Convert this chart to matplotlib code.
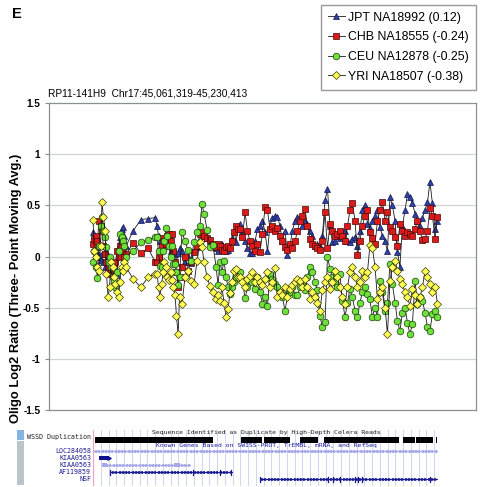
import numpy as np
import matplotlib
matplotlib.use("Agg")
import matplotlib.pyplot as plt
from matplotlib.patches import Rectangle

plt.rcParams['font.family'] = ['Liberation Sans', 'DejaVu Sans']

# ---------------- data ----------------
# probe positions, kb from Chr17:45,061,319
positions_kb = [
    0.0, 0.7, 1.5, 2.2, 2.9, 3.7, 4.4, 5.1, 5.9, 6.6, 7.4, 8.1, 8.8, 9.6, 10.3, 11.0, 11.8, 12.5, 13.2, 14.0, 14.7, 15.4, 16.2,
    19.6, 23.5, 27.0, 30.4,
    31.4, 32.1, 32.8, 33.6, 34.3, 35.0, 35.8, 36.5, 37.2, 38.0, 38.7, 39.4, 40.2, 40.9, 41.7, 42.4,
    43.6, 45.1, 46.6, 48.0, 49.5, 51.0, 52.4, 53.4, 54.4,
    55.9, 57.3, 58.8, 60.3, 61.3, 62.2, 63.2, 64.2, 65.2, 66.2, 67.1, 68.1, 69.1, 70.1, 71.1,
    72.0, 73.2, 74.5, 75.7, 76.9, 78.1, 79.4, 80.6, 81.8, 83.0, 84.3, 85.5, 86.7, 87.9, 89.2, 90.4,
    91.6, 92.8, 94.1, 95.3, 96.5, 97.7, 99.0, 100.2, 101.4, 102.6, 103.9, 105.1, 106.3, 107.5, 108.8, 110.0,
    111.2, 112.4, 113.7, 114.9, 116.1, 117.3, 118.6, 119.8, 121.0, 122.2, 123.5, 124.7, 125.9, 127.1, 128.4, 129.6,
    130.8, 132.0, 133.3, 134.5, 135.7, 136.9, 138.2, 139.4, 140.6, 141.8, 143.1, 144.3, 145.5, 146.7, 148.0, 149.2,
    150.4, 151.6, 152.9, 154.1, 155.3, 156.5, 157.8, 159.0, 160.2, 161.4, 162.7, 163.9, 165.1, 166.3, 167.6, 168.8,
]

jpt = [
    0.24, 0.20, 0.09, 0.05, 0.00, -0.03, 0.02, -0.05, -0.10, 0.05, 0.00, -0.08, -0.05, -0.12, -0.17, -0.10, -0.18, 0.10, 0.19, 0.27, 0.29, 0.20, 0.10,
    0.25, 0.36, 0.37, 0.38,
    0.30, 0.20, 0.15, 0.10, 0.12, 0.17, 0.20, 0.15, 0.10, 0.05, 0.13, 0.08, 0.02, -0.05, 0.03, 0.08,
    0.05, -0.05, 0.00, -0.06, 0.05, 0.09, 0.15, 0.20, 0.22,
    0.18, 0.15, 0.10, 0.08, 0.05, 0.10, 0.12, 0.08, 0.05, 0.06, 0.10, 0.18, 0.25, 0.14, 0.28,
    0.32, 0.25, 0.15, 0.08, 0.03, 0.03, 0.15, 0.27, 0.30, 0.35,
    0.24, 0.05, 0.30, 0.38, 0.40, 0.39, 0.30, 0.15, 0.25, 0.01,
    0.10, 0.25, 0.35, 0.39, 0.38, 0.30, 0.35, 0.32, 0.25, 0.20,
    0.10, 0.12, 0.10, 0.20, 0.55, 0.66, 0.30, 0.14, 0.15, 0.20,
    0.18, 0.25, 0.25, 0.15, 0.14, 0.17, 0.19, 0.10, 0.25, 0.45,
    0.50, 0.32, 0.28, 0.35, 0.40, 0.45, 0.29, 0.20, 0.15, 0.05,
    0.58, 0.50, 0.35, 0.04, -0.10, 0.30, 0.45, 0.61, 0.58, 0.52,
    0.42, 0.35, 0.30, 0.38, 0.45, 0.53, 0.73, 0.52, 0.27, 0.35,
]

chb = [
    0.12, 0.17, 0.20, 0.15, 0.35, 0.30, 0.25, 0.10, 0.02, -0.05, -0.10, -0.17, -0.12, -0.07, -0.15, -0.05, 0.05, 0.00, 0.10, 0.15, 0.05, 0.00, 0.02,
    0.13, 0.03, 0.08, -0.05,
    -0.05, 0.00, 0.05, 0.10, 0.18, 0.15, 0.12, 0.20, 0.22, 0.15, 0.22, 0.05, -0.05, -0.15, -0.30, -0.20,
    -0.10, 0.00, -0.14, -0.05, 0.04, 0.10, 0.22, 0.24, 0.20,
    0.18, 0.16, 0.12, 0.09, 0.12, 0.10, 0.06, 0.05, 0.09, 0.10, 0.08, 0.15, 0.24, 0.30, 0.27,
    0.27, 0.19, 0.43, 0.25, 0.15, 0.10, 0.05, 0.12, 0.04, 0.22,
    0.48, 0.45, 0.27, 0.30, 0.25, 0.28, 0.20, 0.15, 0.09, 0.06,
    0.12, 0.08, 0.15, 0.25, 0.35, 0.40, 0.46, 0.30, 0.17, 0.12,
    0.10, 0.08, 0.06, 0.15, 0.43, 0.08, 0.32, 0.25, 0.20, 0.22,
    0.25, 0.20, 0.15, 0.30, 0.45, 0.52, 0.35, 0.01, 0.15, 0.30,
    0.40, 0.45, 0.24, 0.18, 0.12, 0.35, 0.45, 0.53, 0.35, 0.43,
    0.29, 0.25, 0.19, 0.10, 0.32, 0.25, 0.20, 0.24, 0.22, 0.20,
    0.27, 0.35, 0.25, 0.16, 0.17, 0.25, 0.47, 0.40, 0.17, 0.39,
]

ceu = [
    -0.05, 0.05, -0.10, -0.21, 0.10, 0.30, 0.39, 0.25, 0.19, 0.09, -0.05, 0.00, -0.10, -0.20, -0.24, -0.30, -0.15, 0.05, 0.22, 0.19, 0.15, 0.10, 0.00,
    0.05, 0.14, 0.16, 0.19,
    0.19, 0.05, -0.09, -0.10, 0.05, 0.15, 0.28, 0.20, 0.10, 0.00, 0.10, -0.07, -0.07, -0.15, -0.28, -0.20,
    0.24, 0.15, 0.06, -0.04, 0.14, 0.24, 0.30, 0.51, 0.42,
    0.26, 0.09, 0.11, -0.10, -0.28, -0.05, -0.15, -0.04, -0.20, -0.30, -0.37, -0.30, -0.25, -0.20, -0.15,
    -0.15, -0.23, -0.41, -0.30, -0.20, -0.25, -0.32, -0.20, -0.35, -0.46,
    -0.40, -0.48, -0.17, -0.22, -0.27, -0.30, -0.35, -0.40, -0.53, -0.38,
    -0.35, -0.30, -0.38, -0.38, -0.30, -0.25, -0.33, -0.20, -0.10, -0.15,
    -0.25, -0.33, -0.58, -0.69, -0.64, 0.00, -0.12, -0.20, -0.25, -0.30,
    -0.17, -0.43, -0.59, -0.45, -0.32, -0.40, -0.53, -0.59, -0.45, -0.35,
    -0.30, -0.37, -0.42, -0.59, -0.50, -0.59, -0.24, -0.35, -0.53, -0.45,
    -0.07, -0.27, -0.45, -0.63, -0.73, -0.55, -0.50, -0.65, -0.76, -0.66,
    -0.24, -0.46, -0.40, -0.43, -0.55, -0.69, -0.73, -0.56, -0.53, -0.59,
]

yri = [
    0.36, 0.05, 0.00, -0.10, -0.14, 0.10, 0.53, 0.39, 0.25, -0.17, -0.40, -0.30, -0.05, -0.10, -0.20, -0.27, -0.35, -0.40, -0.25, -0.10, -0.14, -0.05, -0.10,
    -0.22, -0.30, -0.20, -0.17,
    -0.17, -0.30, -0.40, -0.27, -0.15, -0.05, -0.10, -0.20, -0.23, -0.15, -0.23, -0.30, -0.38, -0.58, -0.76, -0.40,
    -0.46, -0.20, -0.14, -0.24, -0.27, -0.04, 0.14, 0.09, -0.05,
    -0.20, -0.29, -0.35, -0.42, -0.38, -0.43, -0.30, -0.45, -0.59, -0.51, -0.36, -0.25, -0.14, -0.12, -0.20,
    -0.20, -0.25, -0.30, -0.22, -0.19, -0.15, -0.25, -0.20, -0.25, -0.28,
    -0.22, -0.15, -0.30, -0.25, -0.11, -0.40, -0.35, -0.38, -0.30, -0.40,
    -0.32, -0.28, -0.25, -0.22, -0.24, -0.30, -0.22, -0.30, -0.42, -0.35,
    -0.40, -0.45, -0.53, -0.33, -0.25, -0.20, -0.32, -0.25, -0.14, -0.20,
    -0.30, -0.40, -0.46, -0.30, -0.15, -0.10, -0.20, -0.30, -0.25, -0.14,
    -0.20, -0.15, 0.11, 0.08, -0.10, -0.42, -0.35, -0.30, -0.50, -0.76,
    -0.24, -0.10, -0.04, -0.14, -0.22, -0.27, -0.35, -0.40, -0.48, -0.32,
    -0.38, -0.46, -0.40, -0.30, -0.14, -0.20, -0.27, -0.35, -0.30, -0.46,
]

series_labels = ["JPT NA18992 (0.12)", "CHB NA18555 (-0.24)",
                 "CEU NA12878 (-0.25)", "YRI NA18507 (-0.38)"]
y_ticks = [-1.5, -1.0, -0.5, 0.0, 0.5, 1.0, 1.5]
y_tick_labels = ["-1.5", "-1", "-0.5", "0", "0.5", "1", "1.5"]

# genome browser tracks (kb)
wssd_segments = [(1.0, 58.8), (72.5, 82.8), (83.8, 96.5), (101.4, 110.2),
                 (113.2, 149.9), (151.9, 157.8), (158.3, 166.6), (168.1, 168.8)]
gene_names = ["LOC284058", "KIAA0563", "KIAA0563", "AF119859", "NSF"]
gene_spans = [(0.0, 168.8), (2.9, 7.8), (4.4, 47.5), (8.3, 68.1), (81.8, 168.8)]
af_exons = [8.3, 49.0, 62.2, 67.6]
nsf_exons = [81.8, 115.2, 117.6, 121.0, 128.4, 129.9, 131.8, 165.1]
kiaa_b_blocks = [(4.4, 6.9), (39.7, 42.6)]

# ---------------- figure ----------------
W, H = 480, 487
fig = plt.figure(figsize=(W / 100, H / 100), dpi=100)
fig.patch.set_facecolor("white")

def px2kb(p):
    return (p - 93) * 0.49

ax = fig.add_axes([49 / W, 1 - 410 / H, (476 - 49) / W, (410 - 103) / H])
ax.set_xlim(px2kb(49), px2kb(476))
ax.set_ylim(-1.5, 1.5)
ax.set_yticks(y_ticks)
ax.set_yticklabels(y_tick_labels, fontsize=7.2, fontweight="bold")
ax.set_xticks([])
for yv in y_ticks[1:-1]:
    ax.axhline(yv, color="#CDD5D5", lw=0.9, zorder=0)
for s in ax.spines.values():
    s.set_color("#8A9090")
    s.set_linewidth(0.9)
ax.tick_params(axis="y", length=3, width=0.8, color="#8A9090", pad=3.3)

styles = [
    dict(marker="^", mfc="#3040A8", mec="#101850", ms=4.8),
    dict(marker="s", mfc="#DD1A1A", mec="#4A0808", ms=4.2),
    dict(marker="o", mfc="#6EE03A", mec="#1C3A0C", ms=4.8),
    dict(marker="D", mfc="#FFFF55", mec="#3A3A00", ms=3.8),
]
handles = []
for vals, lab, st in zip([jpt, chb, ceu, yri], series_labels, styles):
    h, = ax.plot(positions_kb, vals, color="#1A1A1A", lw=0.6, mew=0.5,
                 label=lab, **st)
    handles.append(h)

fig.legend(handles=handles, loc="upper right",
           bbox_to_anchor=(476 / W, 1 - 5 / H), fontsize=8.9,
           frameon=True, fancybox=False, edgecolor="#808080",
           handlelength=1.35, handletextpad=0.3, labelspacing=0.62,
           borderpad=0.55, borderaxespad=0.0)

fig.text(12 / W, 1 - 14 / H, "E", fontsize=10.5, fontweight="bold",
         va="center", ha="left")
fig.text(48 / W, 1 - 94 / H, "RP11-141H9  Chr17:45,061,319-45,230,413",
         fontsize=7.3, va="center", ha="left")
fig.text(16 / W, 1 - 288 / H, "Oligo Log2 Ratio (Three- Point Moving Avg.)",
         rotation=90, fontsize=9.3, fontweight="bold", va="center", ha="center")

# ---------------- genome browser panel ----------------
bx = fig.add_axes([0, 1 - 486 / H, 1, 58 / H])
bx.set_xlim(px2kb(0), px2kb(480))
bx.set_ylim(486, 428)
bx.axis("off")

mono = "DejaVu Sans Mono"
# side bars
bx.add_patch(Rectangle((px2kb(17), 430), px2kb(24) - px2kb(17), 10,
                       color="#86B4E2", lw=0))
bx.add_patch(Rectangle((px2kb(17), 441), px2kb(24) - px2kb(17), 44,
                       color="#B9C4CB", lw=0))
# vertical guide lines
for xv in np.arange(0, 170, 3.8):
    bx.plot([xv, xv], [430, 485], color="#CCD8F2", lw=0.7, zorder=0)
bx.plot([0, 0], [430, 485], color="#F0A0C4", lw=0.8, zorder=1)

bx.text(px2kb(91), 436.5, "WSSD Duplication", fontsize=4.8, family=mono,
        ha="right", va="center", color="#202020")
bx.text(px2kb(266), 432, "Sequence Identified as Duplicate by High-Depth Celera Reads",
        fontsize=4.6, family=mono, ha="center", va="center", color="#202020")
for a, b in wssd_segments:
    bx.add_patch(Rectangle((a, 436.5), b - a, 6, color="black", lw=0, zorder=2))
bx.text(px2kb(266), 445, "Known Genes Based on SWISS-PROT, TrEMBL, mRNA, and RefSeq",
        fontsize=4.6, family=mono, ha="center", va="center", color="#1A1AA0")

track_y = [451, 458, 465, 472, 479]
for name, yv in zip(gene_names, track_y):
    bx.text(px2kb(91), yv, name, fontsize=4.8, family=mono, ha="right",
            va="center", color="#1A1A90")

# LOC284058 (light, with chevrons)
a, b = gene_spans[0]
bx.plot([a, b], [451, 451], color="#A8A8E8", lw=0.6, zorder=2)
xs = np.arange(a + 1, b, 1.6)
bx.plot(xs, np.full(len(xs), 451), ls="none", marker="<", ms=1.6,
        color="#A8A8E8", zorder=2)
# KIAA0563 (dark block)
a, b = gene_spans[1]
bx.add_patch(Rectangle((a, 456.3), b - a, 3.6, color="#10108A", lw=0, zorder=3))
bx.plot([b], [458], marker=">", ms=2.5, color="#10108A", zorder=3)
# KIAA0563 (light)
a, b = gene_spans[2]
bx.plot([a, b], [465, 465], color="#A8A8E8", lw=0.7, zorder=2)
xs = np.arange(a + 2, b, 1.6)
bx.plot(xs, np.full(len(xs), 465), ls="none", marker="<", ms=1.5,
        color="#A8A8E8", zorder=2)
for c, d in kiaa_b_blocks:
    bx.add_patch(Rectangle((c, 463.2), d - c, 3.6, color="#A8A8E8", lw=0, zorder=3))
# AF119859
a, b = gene_spans[3]
bx.plot([a, b], [472, 472], color="#1A1A90", lw=0.7, zorder=2)
xs = np.arange(a + 1, b, 1.6)
bx.plot(xs, np.full(len(xs), 472), ls="none", marker="<", ms=1.4,
        color="#1A1A90", zorder=2)
for e in af_exons:
    bx.plot([e, e], [469.5, 474.5], color="#1A1A90", lw=0.9, zorder=3)
# NSF
a, b = gene_spans[4]
bx.plot([a, b], [479, 479], color="#1A1A90", lw=0.7, zorder=2)
xs = np.arange(a + 1, b, 1.6)
bx.plot(xs, np.full(len(xs), 479), ls="none", marker=">", ms=1.4,
        color="#1A1A90", zorder=2)
for e in nsf_exons:
    bx.plot([e, e], [476.5, 481.5], color="#1A1A90", lw=0.9, zorder=3)

fig.savefig("out.png", dpi=100)
